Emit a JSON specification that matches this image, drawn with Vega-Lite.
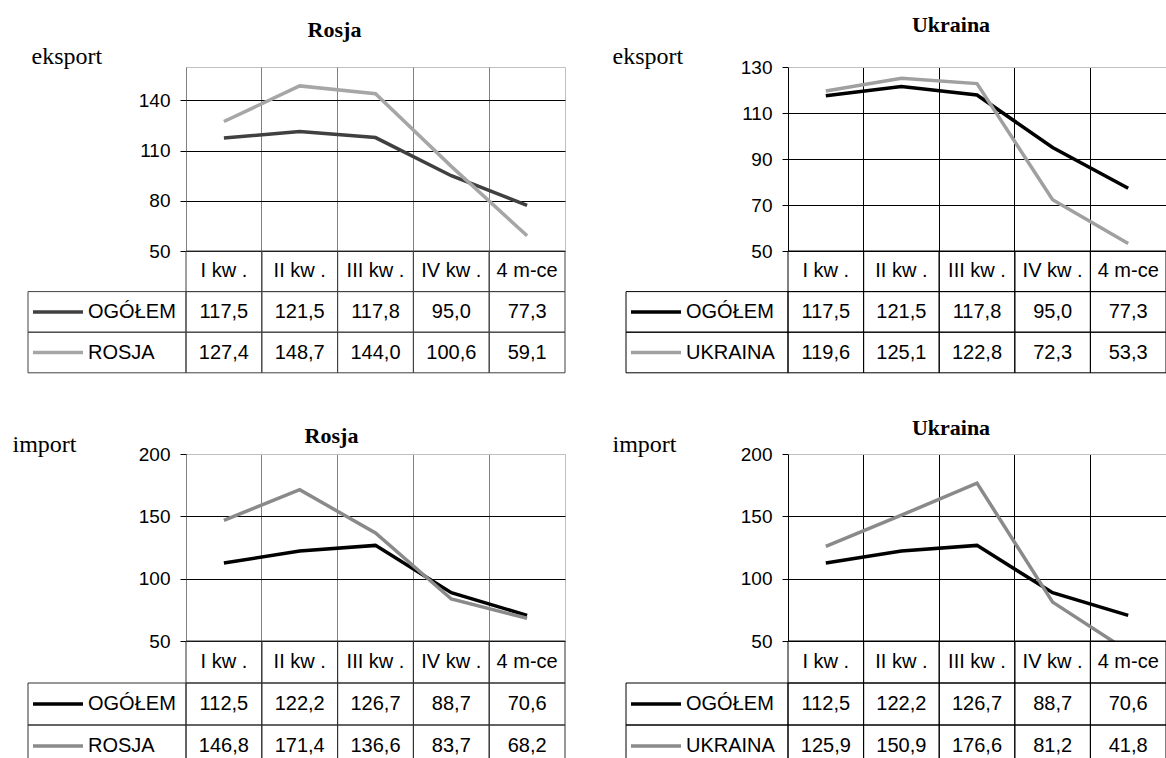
{
  "$schema": "https://vega.github.io/schema/vega-lite/v6.json",
  "padding": {"left": 11, "top": 13, "right": 0, "bottom": 0},
  "background": "white",
  "config": {
    "view": {"stroke": null},
    "locale": {"number": {"decimal": ",", "thousands": " ", "grouping": [3], "currency": ["", " zł"]}}
  },
  "resolve": {"scale": {"color": "independent"}},
  "datasets": {
    "exRos": [
      {"kw": "I kw .", "seria": "OGÓŁEM", "v": 117.5},
      {"kw": "II kw .", "seria": "OGÓŁEM", "v": 121.5},
      {"kw": "III kw .", "seria": "OGÓŁEM", "v": 117.8},
      {"kw": "IV kw .", "seria": "OGÓŁEM", "v": 95.0},
      {"kw": "4 m-ce", "seria": "OGÓŁEM", "v": 77.3},
      {"kw": "I kw .", "seria": "ROSJA", "v": 127.4},
      {"kw": "II kw .", "seria": "ROSJA", "v": 148.7},
      {"kw": "III kw .", "seria": "ROSJA", "v": 144.0},
      {"kw": "IV kw .", "seria": "ROSJA", "v": 100.6},
      {"kw": "4 m-ce", "seria": "ROSJA", "v": 59.1}
    ],
    "exUkr": [
      {"kw": "I kw .", "seria": "OGÓŁEM", "v": 117.5},
      {"kw": "II kw .", "seria": "OGÓŁEM", "v": 121.5},
      {"kw": "III kw .", "seria": "OGÓŁEM", "v": 117.8},
      {"kw": "IV kw .", "seria": "OGÓŁEM", "v": 95.0},
      {"kw": "4 m-ce", "seria": "OGÓŁEM", "v": 77.3},
      {"kw": "I kw .", "seria": "UKRAINA", "v": 119.6},
      {"kw": "II kw .", "seria": "UKRAINA", "v": 125.1},
      {"kw": "III kw .", "seria": "UKRAINA", "v": 122.8},
      {"kw": "IV kw .", "seria": "UKRAINA", "v": 72.3},
      {"kw": "4 m-ce", "seria": "UKRAINA", "v": 53.3}
    ],
    "imRos": [
      {"kw": "I kw .", "seria": "OGÓŁEM", "v": 112.5},
      {"kw": "II kw .", "seria": "OGÓŁEM", "v": 122.2},
      {"kw": "III kw .", "seria": "OGÓŁEM", "v": 126.7},
      {"kw": "IV kw .", "seria": "OGÓŁEM", "v": 88.7},
      {"kw": "4 m-ce", "seria": "OGÓŁEM", "v": 70.6},
      {"kw": "I kw .", "seria": "ROSJA", "v": 146.8},
      {"kw": "II kw .", "seria": "ROSJA", "v": 171.4},
      {"kw": "III kw .", "seria": "ROSJA", "v": 136.6},
      {"kw": "IV kw .", "seria": "ROSJA", "v": 83.7},
      {"kw": "4 m-ce", "seria": "ROSJA", "v": 68.2}
    ],
    "imUkr": [
      {"kw": "I kw .", "seria": "OGÓŁEM", "v": 112.5},
      {"kw": "II kw .", "seria": "OGÓŁEM", "v": 122.2},
      {"kw": "III kw .", "seria": "OGÓŁEM", "v": 126.7},
      {"kw": "IV kw .", "seria": "OGÓŁEM", "v": 88.7},
      {"kw": "4 m-ce", "seria": "OGÓŁEM", "v": 70.6},
      {"kw": "I kw .", "seria": "UKRAINA", "v": 125.9},
      {"kw": "II kw .", "seria": "UKRAINA", "v": 150.9},
      {"kw": "III kw .", "seria": "UKRAINA", "v": 176.6},
      {"kw": "IV kw .", "seria": "UKRAINA", "v": 81.2},
      {"kw": "4 m-ce", "seria": "UKRAINA", "v": 41.8}
    ]
  },
  "columns": 5,
  "align": "each",
  "bounds": "flush",
  "spacing": {"row": 0, "column": 0},
  "concat": [
    {"width": 1, "height": 1, "data": {"values": []}, "mark": "point"},
    {
      "width": 379, "height": 184,
      "data": {"name": "exRos"},
      "view": {"stroke": "#c0c0c0"},
      "title": {"text": "Rosja", "font": "Liberation Serif", "fontSize": 22, "fontWeight": "bold", "color": "#000", "frame": "group", "anchor": "middle", "baseline": "bottom", "offset": 24, "dy": 44, "dx": -41},
      "mark": {"type": "line", "strokeWidth": 3.5, "clip": true},
      "encoding": {
        "x": {"field": "kw", "type": "nominal", "sort": ["I kw .", "II kw .", "III kw .", "IV kw .", "4 m-ce"], "scale": {"type": "band", "domain": ["I kw .", "II kw .", "III kw .", "IV kw .", "4 m-ce"], "paddingInner": 0, "paddingOuter": 0}, "axis": {"title": null, "labels": false, "ticks": false, "domain": false, "grid": true, "gridColor": "#808080", "bandPosition": 0}},
        "y": {"field": "v", "type": "quantitative", "scale": {"domain": [50, 160], "nice": false, "zero": false}, "axis": {"values": [50, 80, 110, 140], "grid": true, "gridColor": "#000", "domain": false, "tickColor": "#000", "tickSize": 6, "labelPadding": 10, "labelFont": "Liberation Sans", "labelFontSize": 19, "labelColor": "#000", "title": "eksport", "titleAngle": 0, "titleAlign": "left", "titleBaseline": "middle", "titleX": -155, "titleY": -11, "titleFont": "Liberation Serif", "titleFontSize": 24, "titleFontWeight": "normal", "titleColor": "#000"}},
        "color": {"field": "seria", "type": "nominal", "scale": {"domain": ["OGÓŁEM", "ROSJA"], "range": ["#404040", "#a6a6a6"]}, "legend": null}
      }
    },
    {"width": 61, "height": 1, "data": {"values": []}, "mark": "point"},
    {"width": 1, "height": 1, "data": {"values": []}, "mark": "point"},
    {
      "width": 378, "height": 184,
      "data": {"name": "exUkr"},
      "view": {"stroke": "#c0c0c0"},
      "title": {"text": "Ukraina", "font": "Liberation Serif", "fontSize": 22, "fontWeight": "bold", "color": "#000", "frame": "group", "anchor": "middle", "baseline": "bottom", "offset": 29, "dy": 44, "dx": -26},
      "mark": {"type": "line", "strokeWidth": 3.5, "clip": true},
      "encoding": {
        "x": {"field": "kw", "type": "nominal", "sort": ["I kw .", "II kw .", "III kw .", "IV kw .", "4 m-ce"], "scale": {"type": "band", "domain": ["I kw .", "II kw .", "III kw .", "IV kw .", "4 m-ce"], "paddingInner": 0, "paddingOuter": 0}, "axis": {"title": null, "labels": false, "ticks": false, "domain": false, "grid": true, "gridColor": "#000", "bandPosition": 0}},
        "y": {"field": "v", "type": "quantitative", "scale": {"domain": [50, 130], "nice": false, "zero": false}, "axis": {"values": [50, 70, 90, 110, 130], "grid": true, "gridColor": {"condition": {"test": "datum.value >= 130", "value": "#c0c0c0"}, "value": "#000"}, "domain": false, "tickColor": "#000", "tickSize": 6, "labelPadding": 10, "labelFont": "Liberation Sans", "labelFontSize": 19, "labelColor": "#000", "title": "eksport", "titleAngle": 0, "titleAlign": "left", "titleBaseline": "middle", "titleX": -176, "titleY": -11, "titleFont": "Liberation Serif", "titleFontSize": 24, "titleFontWeight": "normal", "titleColor": "#000"}},
        "color": {"field": "seria", "type": "nominal", "scale": {"domain": ["OGÓŁEM", "UKRAINA"], "range": ["#000000", "#a0a0a0"]}, "legend": null}
      }
    },
    {
      "width": 158, "height": 203,
      "data": {"name": "exRos"},
      "transform": [{"filter": "datum.kw === 'I kw .'"}],
      "encoding": {"y": {"field": "seria", "type": "nominal", "scale": {"type": "band", "domain": ["kw", "OGÓŁEM", "ROSJA", "g1", "g2"], "paddingInner": 0, "paddingOuter": 0}, "axis": null}},
      "layer": [
        {"mark": {"type": "rect", "fill": "transparent", "stroke": "#404040", "strokeWidth": 1}},
        {"mark": {"type": "point", "shape": "stroke", "size": 2500, "strokeWidth": 3.5, "filled": false, "opacity": 1},
         "encoding": {"x": {"datum": "sw", "type": "nominal", "scale": {"type": "band", "domain": ["sw", "lab"], "paddingInner": 0, "paddingOuter": 0.3167, "align": 0}, "axis": null},
                      "color": {"field": "seria", "type": "nominal", "scale": {"domain": ["OGÓŁEM", "ROSJA"], "range": ["#404040", "#a6a6a6"]}, "legend": null}}},
        {"mark": {"type": "text", "align": "left", "font": "Liberation Sans", "fontSize": 20, "color": "#000"},
         "encoding": {"x": {"datum": "lab", "type": "nominal", "bandPosition": 0}, "text": {"field": "seria", "type": "nominal"}}}
      ]
    },
    {
      "width": 379, "height": 203,
      "data": {"name": "exRos"},
      "encoding": {"x": {"field": "kw", "type": "nominal", "scale": {"type": "band", "domain": ["I kw .", "II kw .", "III kw .", "IV kw .", "4 m-ce"], "paddingInner": 0, "paddingOuter": 0}, "axis": null}},
      "layer": [
        {"mark": {"type": "rect", "fill": "transparent", "stroke": "#404040", "strokeWidth": 1},
         "encoding": {"y": {"field": "seria", "type": "nominal", "scale": {"type": "band", "domain": ["kw", "OGÓŁEM", "ROSJA", "g1", "g2"], "paddingInner": 0, "paddingOuter": 0}, "axis": null}}},
        {"transform": [{"filter": "datum.seria === 'OGÓŁEM'"}],
         "mark": {"type": "rect", "fill": "transparent", "stroke": "#404040", "strokeWidth": 1},
         "encoding": {"y": {"datum": "kw", "type": "nominal"}}},
        {"mark": {"type": "text", "font": "Liberation Sans", "fontSize": 20, "color": "#000"},
         "encoding": {"y": {"field": "seria", "type": "nominal"}, "text": {"field": "v", "type": "quantitative", "format": ".1f"}}},
        {"transform": [{"filter": "datum.seria === 'OGÓŁEM'"}],
         "mark": {"type": "text", "font": "Liberation Sans", "fontSize": 20, "color": "#000"},
         "encoding": {"y": {"datum": "kw", "type": "nominal"}, "text": {"field": "kw", "type": "nominal"}}}
      ]
    },
    {"width": 61, "height": 1, "data": {"values": []}, "mark": "point"},
    {
      "width": 162, "height": 203,
      "data": {"name": "exUkr"},
      "transform": [{"filter": "datum.kw === 'I kw .'"}],
      "encoding": {"y": {"field": "seria", "type": "nominal", "scale": {"type": "band", "domain": ["kw", "OGÓŁEM", "UKRAINA", "g1", "g2"], "paddingInner": 0, "paddingOuter": 0}, "axis": null}},
      "layer": [
        {"mark": {"type": "rect", "fill": "transparent", "stroke": "#000", "strokeWidth": 1}},
        {"mark": {"type": "point", "shape": "stroke", "size": 2500, "strokeWidth": 3.5, "filled": false, "opacity": 1},
         "encoding": {"x": {"datum": "sw", "type": "nominal", "scale": {"type": "band", "domain": ["sw", "lab"], "paddingInner": 0, "paddingOuter": 0.35, "align": 0}, "axis": null},
                      "color": {"field": "seria", "type": "nominal", "scale": {"domain": ["OGÓŁEM", "UKRAINA"], "range": ["#000000", "#a0a0a0"]}, "legend": null}}},
        {"mark": {"type": "text", "align": "left", "font": "Liberation Sans", "fontSize": 20, "color": "#000"},
         "encoding": {"x": {"datum": "lab", "type": "nominal", "bandPosition": 0}, "text": {"field": "seria", "type": "nominal"}}}
      ]
    },
    {
      "width": 378, "height": 203,
      "data": {"name": "exUkr"},
      "encoding": {"x": {"field": "kw", "type": "nominal", "scale": {"type": "band", "domain": ["I kw .", "II kw .", "III kw .", "IV kw .", "4 m-ce"], "paddingInner": 0, "paddingOuter": 0}, "axis": null}},
      "layer": [
        {"mark": {"type": "rect", "fill": "transparent", "stroke": "#000", "strokeWidth": 1},
         "encoding": {"y": {"field": "seria", "type": "nominal", "scale": {"type": "band", "domain": ["kw", "OGÓŁEM", "UKRAINA", "g1", "g2"], "paddingInner": 0, "paddingOuter": 0}, "axis": null}}},
        {"transform": [{"filter": "datum.seria === 'OGÓŁEM'"}],
         "mark": {"type": "rect", "fill": "transparent", "stroke": "#000", "strokeWidth": 1},
         "encoding": {"y": {"datum": "kw", "type": "nominal"}}},
        {"mark": {"type": "text", "font": "Liberation Sans", "fontSize": 20, "color": "#000"},
         "encoding": {"y": {"field": "seria", "type": "nominal"}, "text": {"field": "v", "type": "quantitative", "format": ".1f"}}},
        {"transform": [{"filter": "datum.seria === 'OGÓŁEM'"}],
         "mark": {"type": "text", "font": "Liberation Sans", "fontSize": 20, "color": "#000"},
         "encoding": {"y": {"datum": "kw", "type": "nominal"}, "text": {"field": "kw", "type": "nominal"}}}
      ]
    },
    {"width": 1, "height": 1, "data": {"values": []}, "mark": "point"},
    {
      "width": 379, "height": 187,
      "data": {"name": "imRos"},
      "view": {"stroke": "#c0c0c0"},
      "title": {"text": "Rosja", "font": "Liberation Serif", "fontSize": 22, "fontWeight": "bold", "color": "#000", "frame": "group", "anchor": "middle", "baseline": "bottom", "offset": 6, "dy": 44, "dx": -44},
      "mark": {"type": "line", "strokeWidth": 3.5, "clip": true},
      "encoding": {
        "x": {"field": "kw", "type": "nominal", "sort": ["I kw .", "II kw .", "III kw .", "IV kw .", "4 m-ce"], "scale": {"type": "band", "domain": ["I kw .", "II kw .", "III kw .", "IV kw .", "4 m-ce"], "paddingInner": 0, "paddingOuter": 0}, "axis": {"title": null, "labels": false, "ticks": false, "domain": false, "grid": true, "gridColor": "#808080", "bandPosition": 0}},
        "y": {"field": "v", "type": "quantitative", "scale": {"domain": [50, 200], "nice": false, "zero": false}, "axis": {"values": [50, 100, 150, 200], "grid": true, "gridColor": {"condition": {"test": "datum.value >= 200", "value": "#c0c0c0"}, "value": "#000"}, "domain": false, "tickColor": "#000", "tickSize": 6, "labelPadding": 10, "labelFont": "Liberation Sans", "labelFontSize": 19, "labelColor": "#000", "title": "import", "titleAngle": 0, "titleAlign": "left", "titleBaseline": "middle", "titleX": -174, "titleY": -10, "titleFont": "Liberation Serif", "titleFontSize": 24, "titleFontWeight": "normal", "titleColor": "#000"}},
        "color": {"field": "seria", "type": "nominal", "scale": {"domain": ["OGÓŁEM", "ROSJA"], "range": ["#000000", "#8a8a8a"]}, "legend": null}
      }
    },
    {"width": 61, "height": 1, "data": {"values": []}, "mark": "point"},
    {"width": 1, "height": 1, "data": {"values": []}, "mark": "point"},
    {
      "width": 378, "height": 187,
      "data": {"name": "imUkr"},
      "view": {"stroke": "#c0c0c0"},
      "title": {"text": "Ukraina", "font": "Liberation Serif", "fontSize": 22, "fontWeight": "bold", "color": "#000", "frame": "group", "anchor": "middle", "baseline": "bottom", "offset": 14, "dy": 44, "dx": -26},
      "mark": {"type": "line", "strokeWidth": 3.5, "clip": true},
      "encoding": {
        "x": {"field": "kw", "type": "nominal", "sort": ["I kw .", "II kw .", "III kw .", "IV kw .", "4 m-ce"], "scale": {"type": "band", "domain": ["I kw .", "II kw .", "III kw .", "IV kw .", "4 m-ce"], "paddingInner": 0, "paddingOuter": 0}, "axis": {"title": null, "labels": false, "ticks": false, "domain": false, "grid": true, "gridColor": "#000", "bandPosition": 0}},
        "y": {"field": "v", "type": "quantitative", "scale": {"domain": [50, 200], "nice": false, "zero": false}, "axis": {"values": [50, 100, 150, 200], "grid": true, "gridColor": {"condition": {"test": "datum.value >= 200", "value": "#c0c0c0"}, "value": "#000"}, "domain": false, "tickColor": "#000", "tickSize": 6, "labelPadding": 10, "labelFont": "Liberation Sans", "labelFontSize": 19, "labelColor": "#000", "title": "import", "titleAngle": 0, "titleAlign": "left", "titleBaseline": "middle", "titleX": -176, "titleY": -10, "titleFont": "Liberation Serif", "titleFontSize": 24, "titleFontWeight": "normal", "titleColor": "#000"}},
        "color": {"field": "seria", "type": "nominal", "scale": {"domain": ["OGÓŁEM", "UKRAINA"], "range": ["#000000", "#8a8a8a"]}, "legend": null}
      }
    },
    {
      "width": 158, "height": 126,
      "data": {"name": "imRos"},
      "transform": [{"filter": "datum.kw === 'I kw .'"}],
      "encoding": {"y": {"field": "seria", "type": "nominal", "scale": {"type": "band", "domain": ["kw", "OGÓŁEM", "ROSJA"], "paddingInner": 0, "paddingOuter": 0}, "axis": null}},
      "layer": [
        {"mark": {"type": "rect", "fill": "transparent", "stroke": "#303030", "strokeWidth": 1}},
        {"mark": {"type": "point", "shape": "stroke", "size": 2500, "strokeWidth": 3.5, "filled": false, "opacity": 1},
         "encoding": {"x": {"datum": "sw", "type": "nominal", "scale": {"type": "band", "domain": ["sw", "lab"], "paddingInner": 0, "paddingOuter": 0.3167, "align": 0}, "axis": null},
                      "color": {"field": "seria", "type": "nominal", "scale": {"domain": ["OGÓŁEM", "ROSJA"], "range": ["#000000", "#8a8a8a"]}, "legend": null}}},
        {"mark": {"type": "text", "align": "left", "font": "Liberation Sans", "fontSize": 20, "color": "#000"},
         "encoding": {"x": {"datum": "lab", "type": "nominal", "bandPosition": 0}, "text": {"field": "seria", "type": "nominal"}}}
      ]
    },
    {
      "width": 379, "height": 126,
      "data": {"name": "imRos"},
      "encoding": {"x": {"field": "kw", "type": "nominal", "scale": {"type": "band", "domain": ["I kw .", "II kw .", "III kw .", "IV kw .", "4 m-ce"], "paddingInner": 0, "paddingOuter": 0}, "axis": null}},
      "layer": [
        {"mark": {"type": "rect", "fill": "transparent", "stroke": "#303030", "strokeWidth": 1},
         "encoding": {"y": {"field": "seria", "type": "nominal", "scale": {"type": "band", "domain": ["kw", "OGÓŁEM", "ROSJA"], "paddingInner": 0, "paddingOuter": 0}, "axis": null}}},
        {"transform": [{"filter": "datum.seria === 'OGÓŁEM'"}],
         "mark": {"type": "rect", "fill": "transparent", "stroke": "#303030", "strokeWidth": 1},
         "encoding": {"y": {"datum": "kw", "type": "nominal"}}},
        {"mark": {"type": "text", "font": "Liberation Sans", "fontSize": 20, "color": "#000"},
         "encoding": {"y": {"field": "seria", "type": "nominal"}, "text": {"field": "v", "type": "quantitative", "format": ".1f"}}},
        {"transform": [{"filter": "datum.seria === 'OGÓŁEM'"}],
         "mark": {"type": "text", "font": "Liberation Sans", "fontSize": 20, "color": "#000"},
         "encoding": {"y": {"datum": "kw", "type": "nominal"}, "text": {"field": "kw", "type": "nominal"}}}
      ]
    },
    {"width": 61, "height": 1, "data": {"values": []}, "mark": "point"},
    {
      "width": 162, "height": 126,
      "data": {"name": "imUkr"},
      "transform": [{"filter": "datum.kw === 'I kw .'"}],
      "encoding": {"y": {"field": "seria", "type": "nominal", "scale": {"type": "band", "domain": ["kw", "OGÓŁEM", "UKRAINA"], "paddingInner": 0, "paddingOuter": 0}, "axis": null}},
      "layer": [
        {"mark": {"type": "rect", "fill": "transparent", "stroke": "#000", "strokeWidth": 1}},
        {"mark": {"type": "point", "shape": "stroke", "size": 2500, "strokeWidth": 3.5, "filled": false, "opacity": 1},
         "encoding": {"x": {"datum": "sw", "type": "nominal", "scale": {"type": "band", "domain": ["sw", "lab"], "paddingInner": 0, "paddingOuter": 0.35, "align": 0}, "axis": null},
                      "color": {"field": "seria", "type": "nominal", "scale": {"domain": ["OGÓŁEM", "UKRAINA"], "range": ["#000000", "#8a8a8a"]}, "legend": null}}},
        {"mark": {"type": "text", "align": "left", "font": "Liberation Sans", "fontSize": 20, "color": "#000"},
         "encoding": {"x": {"datum": "lab", "type": "nominal", "bandPosition": 0}, "text": {"field": "seria", "type": "nominal"}}}
      ]
    },
    {
      "width": 378, "height": 126,
      "data": {"name": "imUkr"},
      "encoding": {"x": {"field": "kw", "type": "nominal", "scale": {"type": "band", "domain": ["I kw .", "II kw .", "III kw .", "IV kw .", "4 m-ce"], "paddingInner": 0, "paddingOuter": 0}, "axis": null}},
      "layer": [
        {"mark": {"type": "rect", "fill": "transparent", "stroke": "#000", "strokeWidth": 1},
         "encoding": {"y": {"field": "seria", "type": "nominal", "scale": {"type": "band", "domain": ["kw", "OGÓŁEM", "UKRAINA"], "paddingInner": 0, "paddingOuter": 0}, "axis": null}}},
        {"transform": [{"filter": "datum.seria === 'OGÓŁEM'"}],
         "mark": {"type": "rect", "fill": "transparent", "stroke": "#000", "strokeWidth": 1},
         "encoding": {"y": {"datum": "kw", "type": "nominal"}}},
        {"mark": {"type": "text", "font": "Liberation Sans", "fontSize": 20, "color": "#000"},
         "encoding": {"y": {"field": "seria", "type": "nominal"}, "text": {"field": "v", "type": "quantitative", "format": ".1f"}}},
        {"transform": [{"filter": "datum.seria === 'OGÓŁEM'"}],
         "mark": {"type": "text", "font": "Liberation Sans", "fontSize": 20, "color": "#000"},
         "encoding": {"y": {"datum": "kw", "type": "nominal"}, "text": {"field": "kw", "type": "nominal"}}}
      ]
    }
  ]
}
